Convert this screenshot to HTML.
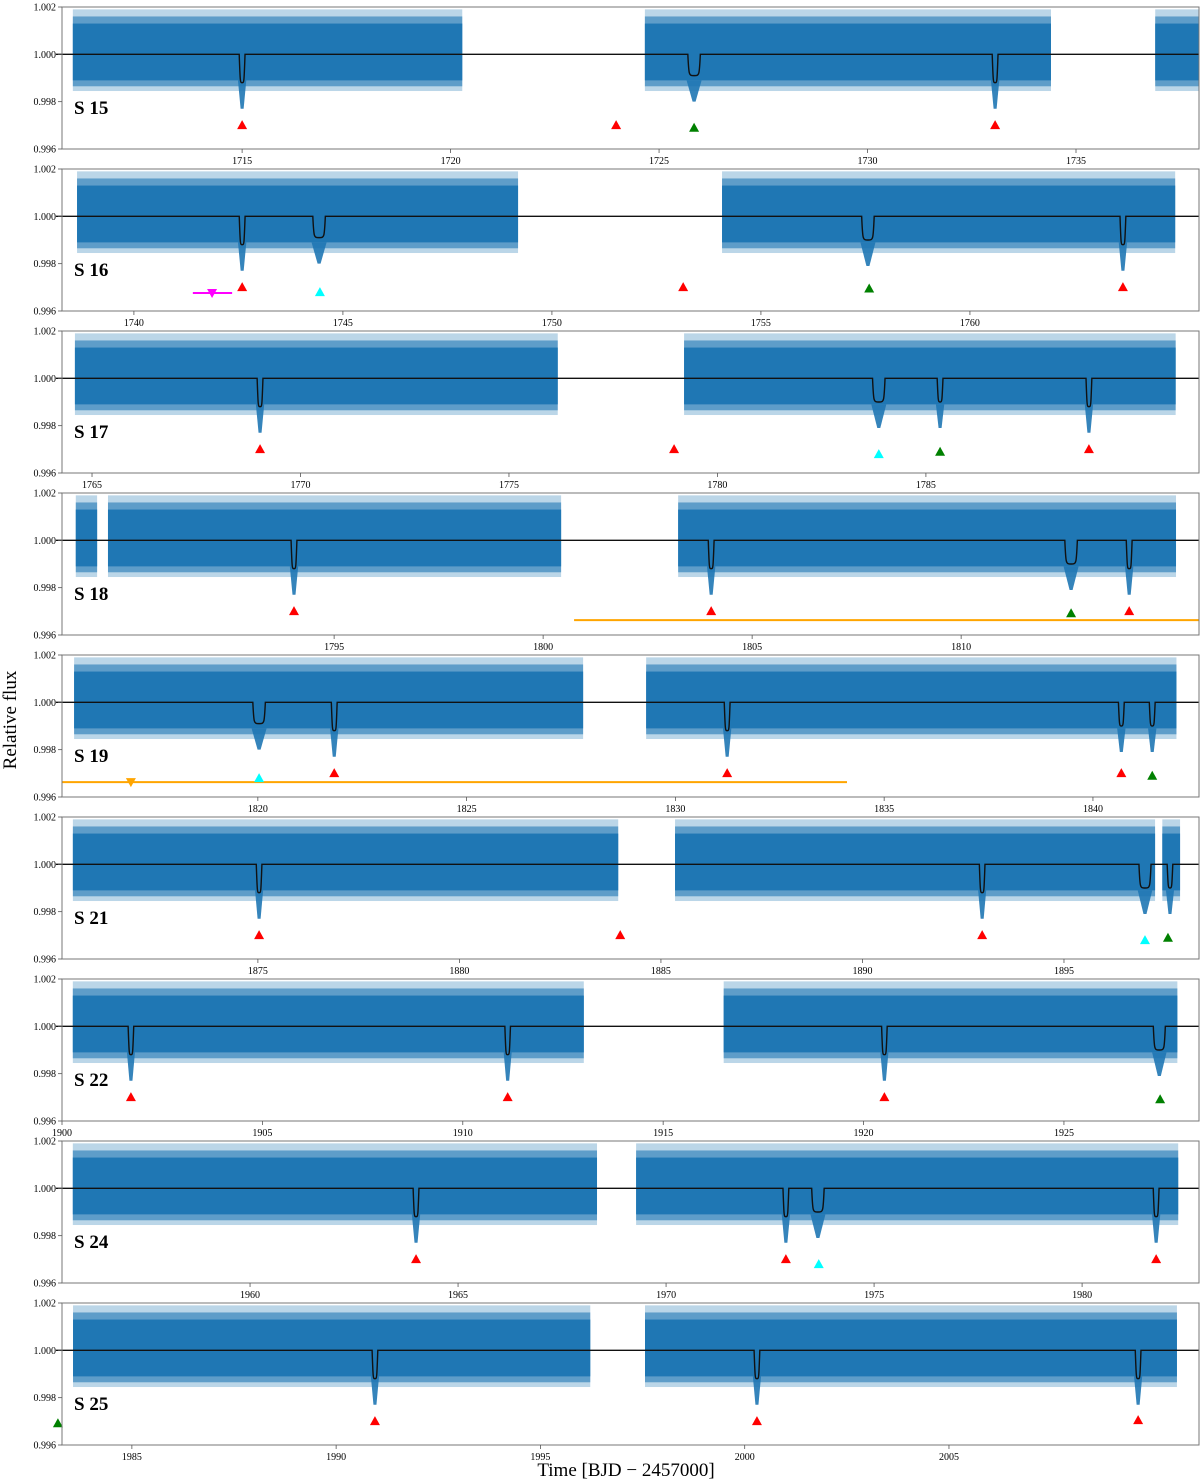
<!DOCTYPE html>
<html><head><meta charset="utf-8">
<style>
html,body{margin:0;padding:0;background:#fff;}
svg{display:block;font-family:"Liberation Serif",serif;}
</style></head>
<body>
<svg id="chart" width="1200" height="1482" viewBox="0 0 1200 1482" xmlns="http://www.w3.org/2000/svg">
<text x="16" y="720" font-size="19" text-anchor="middle" transform="rotate(-90 16 720)">Relative flux</text>
<text x="626" y="1476" font-size="19" text-anchor="middle">Time [BJD − 2457000]</text>
</svg>
<script>
// sector labels
const sectors = ["S 15","S 16","S 17","S 18","S 19","S 21","S 22","S 24","S 25"];
// x-domain of each panel (days)
const domains = [[1710.68,1737.95],[1738.28,1765.48],[1764.28,1791.55],[1788.49,1815.69],[1815.31,1842.54],[1870.14,1898.35],[1900,1928.37],[1955.48,1982.81],[1983.29,2011.12]];
const xTicks = [[1715,1720,1725,1730,1735],[1740,1745,1750,1755,1760],[1765,1770,1775,1780,1785],[1795,1800,1805,1810],[1820,1825,1830,1835,1840],[1875,1880,1885,1890,1895],[1900,1905,1910,1915,1920,1925],[1960,1965,1970,1975,1980],[1985,1990,1995,2000,2005]];
const yTicks = [1.002,1.000,0.998,0.996];
// data segments [start,end]
const segments = [
 [[1710.94,1720.28],[1724.66,1734.40],[1736.90,1737.95]],
 [[1738.64,1749.19],[1754.07,1764.91]],
 [[1764.59,1776.17],[1779.20,1790.99]],
 [[1788.82,1789.33],[1789.59,1800.43],[1803.23,1815.14]],
 [[1815.60,1827.79],[1829.30,1842.00]],
 [[1870.41,1883.94],[1885.35,1897.26],[1897.44,1897.88]],
 [[1900.27,1913.02],[1916.51,1927.83]],
 [[1955.74,1968.34],[1969.28,1982.31]],
 [[1983.56,1996.22],[1997.56,2010.58]]
];
// transits: [time, depth flux, wide?]
const transits = [
 [[1715.00,0.9988,0],[1725.84,0.9991,1],[1733.06,0.9988,0]],
 [[1742.59,0.9988,0],[1744.43,0.9991,1],[1757.56,0.9990,1],[1763.66,0.9988,0]],
 [[1769.03,0.9988,0],[1783.87,0.9990,1],[1785.34,0.9990,0],[1788.91,0.9988,0]],
 [[1794.04,0.9988,0],[1804.02,0.9988,0],[1812.63,0.9990,1],[1814.02,0.9988,0]],
 [[1820.03,0.9991,1],[1821.83,0.9988,0],[1831.24,0.9988,0],[1840.68,0.9990,0],[1841.42,0.9990,0]],
 [[1875.03,0.9988,0],[1892.97,0.9988,0],[1897.01,0.9990,1],[1897.63,0.9990,0]],
 [[1901.72,0.9988,0],[1911.12,0.9988,0],[1920.52,0.9988,0],[1927.38,0.9990,1]],
 [[1963.99,0.9988,0],[1972.88,0.9988,0],[1973.65,0.9990,1],[1981.78,0.9988,0]],
 [[1990.95,0.9988,0],[2000.30,0.9988,0],[2009.63,0.9988,0]]
];
// markers: [time, flux, color, up(1)/down(0)]
const markers = [
 [[1715.00,0.99701,"red",1],[1723.97,0.99701,"red",1],[1725.84,0.99690,"green",1],[1733.06,0.99701,"red",1]],
 [[1742.59,0.99701,"red",1],[1744.45,0.99680,"cyan",1],[1753.14,0.99701,"red",1],[1757.59,0.99695,"green",1],[1763.66,0.99701,"red",1],[1741.87,0.99676,"magenta",0]],
 [[1769.03,0.99701,"red",1],[1778.96,0.99701,"red",1],[1783.87,0.99680,"cyan",1],[1785.34,0.99690,"green",1],[1788.91,0.99701,"red",1]],
 [[1794.04,0.99701,"red",1],[1804.02,0.99701,"red",1],[1812.63,0.99692,"green",1],[1814.02,0.99701,"red",1]],
 [[1820.03,0.99680,"cyan",1],[1821.83,0.99701,"red",1],[1831.24,0.99701,"red",1],[1840.68,0.99701,"red",1],[1841.42,0.99690,"green",1],[1816.96,0.99663,"orange",0]],
 [[1875.03,0.99701,"red",1],[1883.99,0.99701,"red",1],[1892.97,0.99701,"red",1],[1897.01,0.99680,"cyan",1],[1897.58,0.99690,"green",1]],
 [[1901.72,0.99701,"red",1],[1911.12,0.99701,"red",1],[1920.52,0.99701,"red",1],[1927.40,0.99692,"green",1]],
 [[1963.99,0.99701,"red",1],[1972.88,0.99701,"red",1],[1973.67,0.99680,"cyan",1],[1981.78,0.99701,"red",1]],
 [[1983.19,0.99692,"green",1],[1990.95,0.99701,"red",1],[2000.30,0.99701,"red",1],[2009.63,0.99705,"red",1]]
];
// horizontal ranges: [panel, t0, t1, flux, color]
const ranges = [[1,1741.41,1742.35,0.99676,"magenta"],[3,1800.74,1815.69,0.99663,"orange"],[4,1815.31,1834.11,0.99663,"orange"]];

const NS="http://www.w3.org/2000/svg";
const svg=document.getElementById('chart');
const L=62,R=1199,W=R-L,PH=142;
const tops=[7,169,331,493,655,817,979,1141,1303];
function mk(tag,attrs,parent){const e=document.createElementNS(NS,tag);for(const k in attrs)e.setAttribute(k,attrs[k]);(parent||svg).appendChild(e);return e;}
const colors={red:"#ff0000",green:"#008000",cyan:"#00ffff",magenta:"#ff00ff",orange:"#ffa500"};

for(let p=0;p<9;p++){
  const top=tops[p],bot=top+PH,[t0,t1]=domains[p];
  const X=t=>L+(t-t0)/(t1-t0)*W;
  const Y=f=>bot-(f-0.996)/0.006*PH;
  const g=mk('g',{});
  
  
  const clip=mk('clipPath',{id:'c'+p},g);
  mk('rect',{x:L-6,y:top,width:W+6,height:PH},clip);
  const dg=mk('g',{'clip-path':'url(#c'+p+')'},g);
  // data segments
  segments[p].forEach(s=>{
    const x0=X(s[0]),x1=X(s[1]);
    const o=mk('rect',{x:x0,y:Y(1.0019),width:x1-x0,height:Y(0.99845)-Y(1.0019),fill:'#1f77b4','fill-opacity':0.3},dg);
    
    
    const m=mk('rect',{x:x0,y:Y(1.0016),width:x1-x0,height:Y(0.99865)-Y(1.0016),fill:'#1f77b4','fill-opacity':0.6},dg);
    
    
    const c=mk('rect',{x:x0,y:Y(1.0013),width:x1-x0,height:Y(0.9989)-Y(1.0013),fill:'#1f77b4'},dg);
    
    
  });
  // data dips
  transits[p].forEach(tr=>{
    const w=tr[2]?0.36:0.2;
    const a=X(tr[0]-w/2),b=X(tr[0]+w/2),yb=Y(tr[1]-0.0011);
    const r=mk('polygon',{points:a+','+Y(0.9989)+' '+b+','+Y(0.9989)+' '+(X(tr[0])+1.5)+','+yb+' '+(X(tr[0])-1.5)+','+yb,fill:'#1f77b4','fill-opacity':0.9},dg);
    
    
  });
  // model line
  let d='M'+X(t0-1)+','+Y(1);
  transits[p].slice().sort((a,b)=>a[0]-b[0]).forEach(tr=>{
    const w=tr[2]?0.30:0.14;
    const a=X(tr[0]-w/2),b=X(tr[0]+w/2),yd=Y(tr[1]),y1=Y(1);
    d+=' L'+a+','+y1+' C'+(a+1)+','+yd+' '+(a+1)+','+yd+' '+X(tr[0])+','+yd+' C'+(b-1)+','+yd+' '+(b-1)+','+yd+' '+b+','+y1;
  });
  d+=' L'+X(t1+1)+','+Y(1);
  const ml=mk('path',{d:d,fill:'none',stroke:'#111','stroke-width':1.4},dg);
  
  
  // ranges
  ranges.filter(r=>r[0]===p).forEach(r=>{
    const ln=mk('line',{x1:X(r[1]),x2:X(r[2]),y1:Y(r[3]),y2:Y(r[3]),stroke:colors[r[4]],'stroke-width':2},g);
    
    
  });
  // markers
  markers[p].forEach(mm=>{
    const x=X(mm[0]),y=Y(mm[1]),s=5;
    const pts=mm[3]?[[x,y-s],[x-s,y+s*0.8],[x+s,y+s*0.8]]:[[x,y+s],[x-s,y-s*0.8],[x+s,y-s*0.8]];
    const tri=mk('polygon',{points:pts.map(q=>q.join(',')).join(' '),fill:colors[mm[2]]},g);
    
    
  });
  // frame
  mk('rect',{x:L,y:top,width:W,height:PH,fill:'none',stroke:'#777','stroke-width':1},g);
  // y ticks
  yTicks.forEach(v=>{
    const y=Y(v);
    mk('line',{x1:L-4,x2:L,y1:y,y2:y,stroke:'#555','stroke-width':0.8},g);
    const t=mk('text',{x:L-6,y:y+3.5,'font-size':10,'text-anchor':'end'},g);
    t.textContent=v.toFixed(3);
    
    
  });
  // x ticks
  xTicks[p].forEach(v=>{
    const x=X(v);
    mk('line',{x1:x,x2:x,y1:bot,y2:bot+4,stroke:'#555','stroke-width':0.8},g);
    const t=mk('text',{x:x,y:bot+15,'font-size':10,'text-anchor':'middle'},g);
    t.textContent=v;
    
    
  });
  const lab=mk('text',{x:74,y:top+107,'font-size':19,'font-weight':'bold'},g);
  lab.textContent=sectors[p];
  
  
}
</script>
</body></html>
